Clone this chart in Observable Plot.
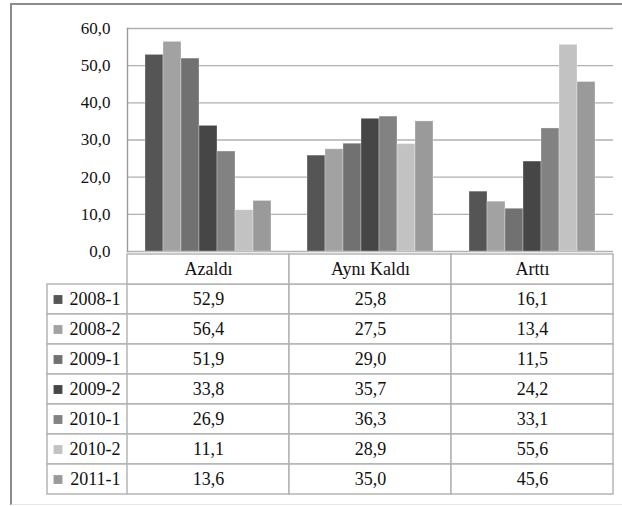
<!DOCTYPE html>
<html><head><meta charset="utf-8">
<script src="https://cdn.jsdelivr.net/npm/d3@7"></script>
<script src="https://cdn.jsdelivr.net/npm/@observablehq/plot@0.6"></script>
<style>
body{margin:0;background:#fff;}
#wrap{position:relative;width:622px;height:506px;overflow:hidden;font-family:"Liberation Serif",serif;background:#fff;}
#frame{position:absolute;left:10px;top:3px;width:640px;height:499px;border-left:2px solid #8c8c8c;border-top:2px solid #8c8c8c;border-bottom:1px solid #e6e6e6;z-index:5;pointer-events:none;}
.p{position:absolute;}
</style></head><body>
<div id="wrap"><div id="frame"></div></div>
<script>
const categories = ["Azaldı", "Aynı Kaldı", "Arttı"];
const series = ["2008-1", "2008-2", "2009-1", "2009-2", "2010-1", "2010-2", "2011-1"];
const azaldi = [52.9, 56.4, 51.9, 33.8, 26.9, 11.1, 13.6];
const ayniKaldi = [25.8, 27.5, 29.0, 35.7, 36.3, 28.9, 35.0];
const artti = [16.1, 13.4, 11.5, 24.2, 33.1, 55.6, 45.6];
const yTicks = [0, 10, 20, 30, 40, 50, 60];
const colors = ["#555555", "#a2a2a2", "#717171", "#464646", "#828282", "#c2c2c2", "#9a9a9a"];

const valuesByCategory = [azaldi, ayniKaldi, artti];
const data = categories.flatMap((c, ci) => series.map((s, si) => ({category: c, series: s, value: valuesByCategory[ci][si]})));
const fmt = d => d.toFixed(1).replace(".", ",");
const gridColor = "#b0b0b0";
const font = "Liberation Serif";

const wrap = document.getElementById("wrap");

const chart = Plot.plot({
  width: 622, height: 264,
  marginLeft: 127, marginRight: 9, marginTop: 28, marginBottom: 13,
  style: {fontFamily: font, background: "transparent", color: "#111"},
  fx: {domain: categories, padding: 0, axis: null},
  x: {domain: series, paddingInner: 0, paddingOuter: 0.78, axis: null},
  y: {domain: [0, 60], axis: null, label: null},
  color: {domain: series, range: colors},
  marks: [
    Plot.gridY(yTicks, {stroke: gridColor, strokeOpacity: 1, strokeWidth: 1.4}),
    Plot.barY(data, {fx: "category", x: "series", y: "value", fill: "series", stroke: "#ffffff", strokeOpacity: 0.3, strokeWidth: 1}),
    Plot.axisY(yTicks, {tickSize: 0, tickPadding: 17, tickFormat: fmt, fontSize: 17, fontFamily: font, fill: "#111", label: null}),
    Plot.frame({anchor: "left", facetAnchor: "left", stroke: "#9a9a9a", strokeWidth: 1.4})
  ]
});
chart.classList.add("p"); chart.style.left = "0px"; chart.style.top = "0px";
wrap.appendChild(chart);

const rows = ["", ...series];

const table = Plot.plot({
  width: 622, height: 248,
  marginLeft: 127, marginRight: 9, marginTop: 0, marginBottom: 2,
  style: {fontFamily: font, background: "transparent", color: "#111"},
  x: {domain: categories, padding: 0, axis: null},
  y: {domain: rows, padding: 0, axis: null},
  marks: [
    Plot.cell(data, {x: "category", y: "series", fill: "white", stroke: gridColor, strokeWidth: 1.4}),
    Plot.cell(categories, {x: d => d, y: () => "", fill: "white", stroke: gridColor, strokeWidth: 1.4}),
    Plot.text(data, {x: "category", y: "series", text: d => fmt(d.value), fontSize: 18, fontFamily: font, fill: "#111"}),
    Plot.text(categories, {x: d => d, y: () => "", text: d => d, fontSize: 18, fontFamily: font, fill: "#111"})
  ]
});
table.classList.add("p"); table.style.left = "0px"; table.style.top = "251px";
wrap.appendChild(table);

const legend = Plot.plot({
  width: 127, height: 248,
  marginLeft: 47, marginRight: 0, marginTop: 0, marginBottom: 2,
  style: {fontFamily: font, background: "transparent", color: "#111"},
  x: {domain: ["key"], padding: 0, axis: null},
  y: {domain: rows, padding: 0, axis: null},
  color: {domain: series, range: colors},
  marks: [
    Plot.cell(series, {x: () => "key", y: d => d, fill: "white", stroke: gridColor, strokeWidth: 1.4}),
    Plot.dot(series, {y: d => d, frameAnchor: "left", dx: 10.5, symbol: "square", r: 5, fill: d => d, stroke: null}),
    Plot.text(series, {y: d => d, frameAnchor: "right", dx: -7, textAnchor: "end", text: d => d, fontSize: 18, fontFamily: font, fill: "#111"})
  ]
});
legend.classList.add("p"); legend.style.left = "0px"; legend.style.top = "251px";
wrap.appendChild(legend);
</script>
</body></html>
